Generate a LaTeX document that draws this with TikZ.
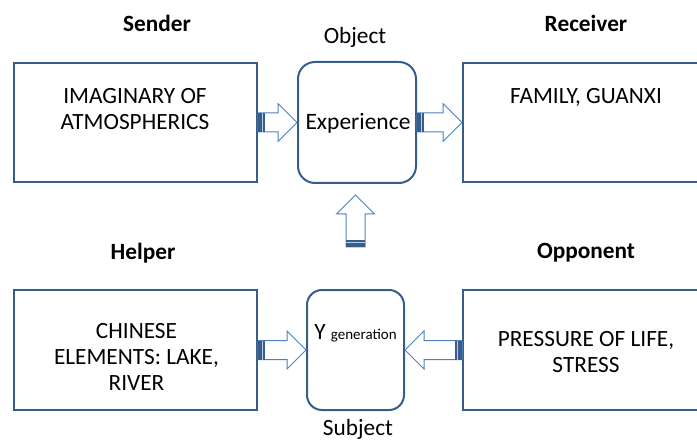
\documentclass[tikz,border=0pt]{standalone}
\usepackage{fontspec}
\setmainfont{Carlito}
\usepackage{xcolor}
\usepackage{tikz}
\usetikzlibrary{calc}

\definecolor{boxblue}{RGB}{56,93,138}
\definecolor{arrowblue}{RGB}{79,129,189}
\definecolor{bandlight}{RGB}{185,205,229}

% hollow block arrow from tail #1 to tip #2
\newcommand{\blockarrow}[2]{%
    \path let \p1 = ($(#2)-(#1)$) in
        \pgfextra{\pgfmathsetmacro\tmplen{veclen(\x1,\y1)}\xdef\arrlen{\tmplen}%
                  \pgfmathsetmacro\tmpang{atan2(\y1,\x1)}\xdef\arrang{\tmpang}};
    \begin{scope}[shift={(#1)}, rotate=\arrang]
        \draw[arrowline] (0,-9.5) -- (\arrlen-19,-9.5) -- (\arrlen-19,-19) -- (\arrlen,0)
            -- (\arrlen-19,19) -- (\arrlen-19,9.5) -- (0,9.5) -- cycle;
        \fill[arrowband] (0,-9.5) rectangle (7,9.5);
        \draw[bandline] (4.3,-9.5) -- (4.3,9.5);
    \end{scope}}

\begin{document}
\begin{tikzpicture}[x=1pt, y=1pt,
    box/.style={draw=boxblue, line width=2pt, inner sep=0pt},
    roundbox/.style={box, rounded corners=17pt},
    txt/.style={font=\fontsize{23.3}{26}\selectfont, align=center, inner sep=0pt},
    title/.style={txt, font=\fontsize{23.3}{26}\selectfont\bfseries},
    arrowline/.style={draw=arrowblue, line width=1pt, fill=white},
    arrowband/.style={fill=boxblue},
    bandline/.style={draw=bandlight, line width=1.1pt}]
    \useasboundingbox (0,0) rectangle (697,440);
    \clip (0,0) rectangle (697,440);

    % Boxes
    \node[box, minimum width=243, minimum height=119] (sender) at (135.5,317.5) {};
    \node[roundbox, minimum width=118, minimum height=121] (object) at (357,317.5) {};
    \node[box, minimum width=246, minimum height=119] (receiver) at (586,317.5) {};
    \node[box, minimum width=243, minimum height=120] (helper) at (135.5,90) {};
    \node[roundbox, rounded corners=15pt, minimum width=97, minimum height=120] (subject) at (355.5,90) {};
    \node[box, minimum width=246, minimum height=120] (opponent) at (586,90) {};

    % Texts
    \node[txt] (sendertxt) at (135,330.5) {IMAGINARY OF\\ATMOSPHERICS};
    \node[txt, font=\fontsize{23.5}{26}\selectfont] (experience) at (358,317) {Experience};
    \node[txt] (receivertxt) at (586,342.5) {FAMILY, GUANXI};
    \node[txt] (helpertxt) at (136.5,83) {CHINESE\\ELEMENTS: LAKE,\\RIVER};
    \node[txt] (ygen) at (355.5,107) {Y {\fontsize{15}{18}\selectfont generation}};
    \node[txt] (opponenttxt) at (586,87.5) {PRESSURE OF LIFE,\\STRESS};

    % Titles
    \node[title] (sendertitle) at (157,417) {Sender};
    \node[txt] (objecttitle) at (355,403) {Object};
    \node[title] (receivertitle) at (586,417) {Receiver};
    \node[title] (helpertitle) at (143,187) {Helper};
    \node[txt] (subjecttitle) at (358,11) {Subject};
    \node[title] (opponenttitle) at (586,187) {Opponent};

    % Arrows
    \coordinate (uptail) at ($(subject.north)+(0,42)$);
    \coordinate (uptip) at ($(uptail)+(0,52)$);
    \blockarrow{sender.east}{object.west}
    \blockarrow{object.east}{receiver.west}
    \blockarrow{uptail}{uptip}
    \blockarrow{helper.east}{subject.west}
    \blockarrow{opponent.west}{subject.east}
\end{tikzpicture}
\end{document}
